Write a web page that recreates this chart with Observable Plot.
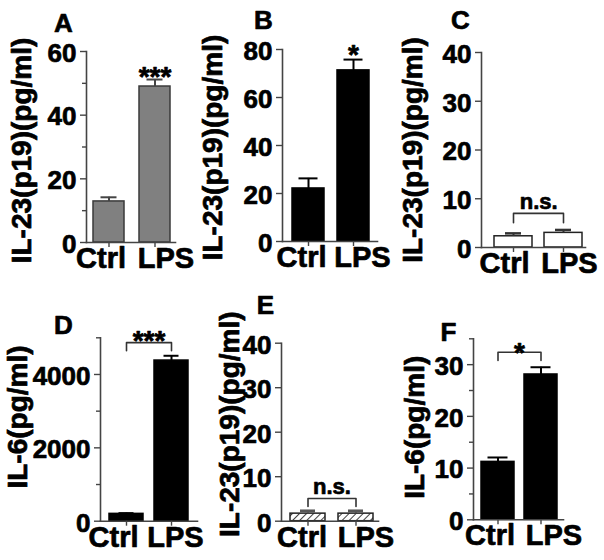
<!DOCTYPE html>
<html>
<head>
<meta charset="utf-8">
<script src="https://cdn.jsdelivr.net/npm/d3@7"></script>
<script src="https://cdn.jsdelivr.net/npm/@observablehq/plot@0.6"></script>
<style>
  html, body { margin: 0; padding: 0; background: #fff; }
  #fig { position: relative; width: 604px; height: 560px; overflow: hidden; background: #fff; }
  #fig svg { position: absolute; overflow: visible; }
</style>
</head>
<body>
<div id="fig"></div>
<script>
// ---------- data ----------
const groups = ["Ctrl", "LPS"];
const labelIL23 = "IL-23(p19)(pg/ml)";
const labelIL6 = "IL-6(pg/ml)";

const aValues = [12.9, 49.0];  const aErrors = [1.3, 2.2];
const bValues = [22.1, 71.3];  const bErrors = [4.2, 4.5];
const cValues = [2.3, 3.0];    const cErrors = [0.6, 0.6];
const dValues = [200, 4380];   const dErrors = [20, 130];
const eValues = [1.7, 1.7];    const eErrors = [0.6, 0.6];
const fValues = [11.2, 28.1];  const fErrors = [0.85, 1.4];

const aTicks = [0, 20, 40, 60];         const aMinor = [10, 30, 50];
const bTicks = [0, 20, 40, 60, 80];     const bMinor = [];
const cTicks = [0, 10, 20, 30, 40];     const cMinor = [];
const dTicks = [0, 2000, 4000];         const dMinor = [1000, 3000, 5000];
const eTicks = [0, 10, 20, 30, 40];     const eMinor = [];
const fTicks = [0, 10, 20, 30];         const fMinor = [5, 15, 25, 35];

const aDomain = [0, 60]; const bDomain = [0, 80]; const cDomain = [0, 40];
const dDomain = [0, 5000]; const eDomain = [0, 40]; const fDomain = [0, 35];

// significance annotations: text, y position, bracket [top, leg bottom]
const aSig = "***"; const aSigY = 51.9; const aBracket = null;
const bSig = "*";   const bSigY = 77.6; const bBracket = null;
const cSig = "n.s."; const cSigY = 9.4;  const cBracket = [7.0, 5.1];
const dSig = "***"; const dSigY = 4905; const dBracket = [4868, 4649];
const eSig = "n.s."; const eSigY = 7.8;  const eBracket = [5.1, 3.3];
const fSig = "*";   const fSigY = 32.3; const fBracket = [32.4, 30.8];

// ---------- drawing ----------
const fig = document.getElementById("fig");
const FONT = "'Liberation Sans', Arial, Helvetica, sans-serif";
const AXIS = "#444";
const TS = {textStroke: "#000", textStrokeWidth: 0.7};   // slightly heavier text like the scan
const MS = {fill: "#000", stroke: "#000", strokeWidth: 0.7};

function panel(p) {
  const step = p.bw + p.gap;
  const rangeW = p.padL + 2 * p.bw + p.gap + p.padR;
  const data = groups.map((g, i) => ({g, v: p.values[i], e: p.values[i] + p.errors[i]}));
  const marks = [
    Plot.barY(data, {x: "g", y: "v", fill: p.fill, stroke: p.stroke, strokeWidth: 1.5}),
    Plot.ruleX(data, {x: "g", y1: "v", y2: "e", stroke: p.errColor, strokeWidth: 2}),
    Plot.tickY(data, {x: "g", y: "e", stroke: p.errColor, strokeWidth: p.capW,
      insetLeft: p.capInset, insetRight: p.capInset}),
    Plot.frame({anchor: "left", stroke: AXIS, strokeWidth: 1.6}),
    Plot.frame({anchor: "bottom", stroke: AXIS, strokeWidth: 1.6}),
    // y tick marks
    Plot.axisY({ticks: p.ticks, tickSize: 6, tickFormat: () => "", label: null, stroke: AXIS, strokeWidth: 1.4}),
    // y tick labels (sit a little low, as in the original)
    Plot.axisY({ticks: p.ticks, tickSize: 0, tickPadding: 10, dy: 2, fontSize: 26, label: null,
      tickFormat: d3.format("d"), ...TS}),
    // x tick marks
    Plot.axisX({tickSize: 5, tickFormat: () => "", label: null, stroke: AXIS, strokeWidth: 1.4}),
    // x tick labels (each slightly offset as in the original figure)
    Plot.axisX({ticks: [groups[0]], tickSize: 0, tickPadding: 5, dx: p.lblDx[0], fontSize: 29, label: null, ...TS}),
    Plot.axisX({ticks: [groups[1]], tickSize: 0, tickPadding: 5, dx: p.lblDx[1], fontSize: 29, label: null, ...TS}),
    Plot.text([p.ylabel], {text: d => d, frameAnchor: "left", rotate: -90, dx: p.ylDx, dy: p.ylDy,
      fontSize: 28, fontWeight: "bold", textAnchor: "middle", lineAnchor: "middle", ...MS}),
    Plot.text([p.letter], {text: d => d, frameAnchor: "top-left", dx: p.letDx, dy: p.letDy,
      fontSize: 26, fontWeight: "bold", textAnchor: "middle", lineAnchor: "middle", ...MS})
  ];
  if (p.minor.length) {
    marks.push(Plot.axisY({ticks: p.minor, tickSize: 4, tickFormat: () => "", label: null,
      stroke: AXIS, strokeWidth: 1.4}));
  }
  if (p.bracket) {
    const [top, leg] = p.bracket;
    marks.push(Plot.line([
      {x: "Ctrl", y: leg}, {x: "Ctrl", y: top}, {x: "LPS", y: top}, {x: "LPS", y: leg}
    ], {x: "x", y: "y", stroke: "#333", strokeWidth: 1.6}));
    marks.push(Plot.text([{x: "Ctrl", y: p.sigY, t: p.sig}], {x: "x", y: "y", text: "t",
      dx: step / 2, fontSize: p.sig === "n.s." ? 22 : 28, fontWeight: "bold",
      textAnchor: "middle", lineAnchor: "middle", ...MS}));
  } else {
    marks.push(Plot.text([{x: "LPS", y: p.sigY, t: p.sig}], {x: "x", y: "y", text: "t",
      fontSize: 28, fontWeight: "bold", textAnchor: "middle", lineAnchor: "middle", ...MS}));
  }
  const svg = Plot.plot({
    width: p.width,
    height: 280,
    marginLeft: p.frameLeft - p.left,
    marginRight: p.width - (p.frameLeft - p.left) - rangeW,
    marginTop: p.marginTop,
    marginBottom: p.marginBottom,
    style: {fontFamily: FONT, fontWeight: "bold", background: "transparent", overflow: "visible", color: "#000"},
    x: {type: "band", domain: groups, paddingInner: p.gap / step,
        paddingOuter: (p.padL + p.padR) / 2 / step, align: p.padL / (p.padL + p.padR)},
    y: {domain: p.domain},
    marks
  });
  svg.style.left = p.left + "px";
  svg.style.top = p.top + "px";
  if (p.pattern) {
    const defs = d3.select(svg).insert("defs", ":first-child");
    const pat = defs.append("pattern").attr("id", p.pattern).attr("patternUnits", "userSpaceOnUse")
      .attr("width", 5).attr("height", 5).attr("patternTransform", "rotate(45)");
    pat.append("rect").attr("width", 5).attr("height", 5).attr("fill", "#fff");
    pat.append("line").attr("x1", 0).attr("y1", 0).attr("x2", 0).attr("y2", 5)
      .attr("stroke", "#111").attr("stroke-width", 1.6);
  }
  fig.appendChild(svg);
}

panel({letter: "A", values: aValues, errors: aErrors, ticks: aTicks, minor: aMinor, domain: aDomain,
  sig: aSig, sigY: aSigY, bracket: aBracket, ylabel: labelIL23, lblDx: [-8, 11],
  left: 0, top: 0, width: 200, frameLeft: 86, padL: 7, bw: 31, gap: 15, padR: 5,
  marginTop: 51, marginBottom: 38, fill: "#808080", stroke: "#3a3a3a", errColor: "#444", capW: 2, capInset: 7.5,
  ylDx: -64, ylDy: 3.5, letDx: -23, letDy: -28});

panel({letter: "B", values: bValues, errors: bErrors, ticks: bTicks, minor: bMinor, domain: bDomain,
  sig: bSig, sigY: bSigY, bracket: bBracket, ylabel: labelIL23, lblDx: [-7, 9],
  left: 190, top: 0, width: 210, frameLeft: 282, padL: 10, bw: 32, gap: 13, padR: 8,
  marginTop: 49, marginBottom: 39, fill: "#000", stroke: "#000", errColor: "#000", capW: 2, capInset: 6.5,
  ylDx: -69, ylDy: 2, letDx: -19, letDy: -29});

panel({letter: "C", values: cValues, errors: cErrors, ticks: cTicks, minor: cMinor, domain: cDomain,
  sig: cSig, sigY: cSigY, bracket: cBracket, ylabel: labelIL23, lblDx: [-9, 6],
  left: 395, top: 0, width: 209, frameLeft: 481, padL: 12, bw: 38.5, gap: 12, padR: 3,
  marginTop: 52, marginBottom: 33, fill: "#fff", stroke: "#222", errColor: "#333", capW: 2.5, capInset: 11,
  ylDx: -68, ylDy: 0, letDx: -21, letDy: -32});

panel({letter: "D", values: dValues, errors: dErrors, ticks: dTicks, minor: dMinor, domain: dDomain,
  sig: dSig, sigY: dSigY, bracket: dBracket, ylabel: labelIL6, lblDx: [-13, 4],
  left: 0, top: 280, width: 200, frameLeft: 100, padL: 9, bw: 34, gap: 11, padR: 9,
  marginTop: 57.3, marginBottom: 39.3, fill: "#000", stroke: "#000", errColor: "#000", capW: 2, capInset: 9.5,
  ylDx: -82, ylDy: -12.5, letDx: -37, letDy: -12});

panel({letter: "E", values: eValues, errors: eErrors, ticks: eTicks, minor: eMinor, domain: eDomain,
  sig: eSig, sigY: eSigY, bracket: eBracket, ylabel: labelIL23, pattern: "hatchE", lblDx: [-6, 10],
  left: 200, top: 280, width: 195, frameLeft: 281, padL: 9, bw: 35, gap: 13, padR: 5,
  marginTop: 62.7, marginBottom: 39.3, fill: "url(#hatchE)", stroke: "#222", errColor: "#555", capW: 3, capInset: 10,
  ylDx: -51, ylDy: -8, letDx: -16, letDy: -38});

panel({letter: "F", values: fValues, errors: fErrors, ticks: fTicks, minor: fMinor, domain: fDomain,
  sig: fSig, sigY: fSigY, bracket: fBracket, ylabel: labelIL6, lblDx: [-8, 13],
  left: 395, top: 280, width: 209, frameLeft: 473, padL: 8, bw: 33, gap: 10, padR: 6,
  marginTop: 58.3, marginBottom: 40.7, fill: "#000", stroke: "#000", errColor: "#000", capW: 2, capInset: 6.5,
  ylDx: -58, ylDy: -2, letDx: -25, letDy: -6});
</script>
</body>
</html>
